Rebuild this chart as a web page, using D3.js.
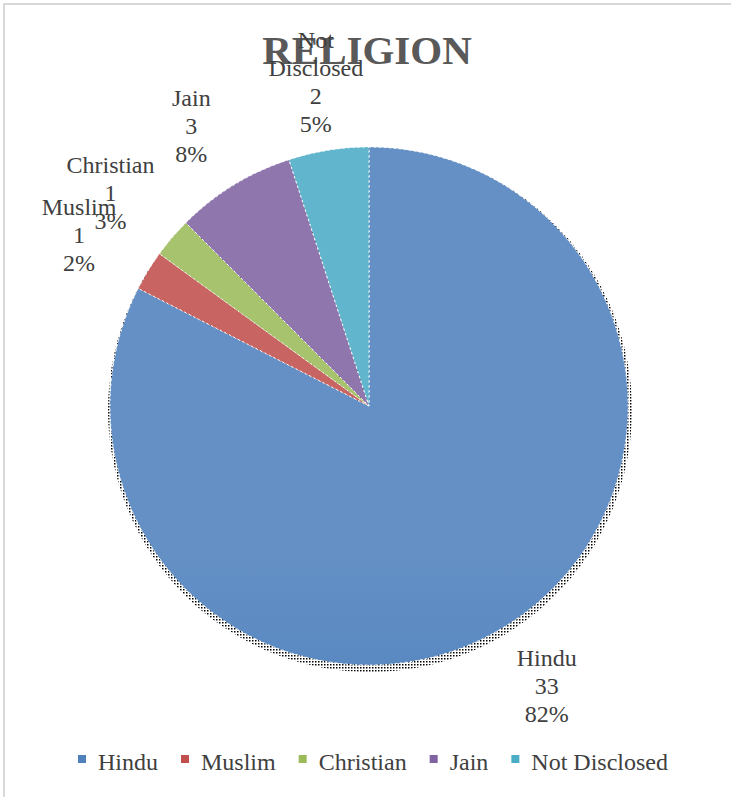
<!DOCTYPE html>
<html>
<head>
<meta charset="utf-8">
<script src="https://cdn.jsdelivr.net/npm/d3@7"></script>
<style>
  body { margin: 0; background: #fff; }
</style>
</head>
<body>
<svg class="chart-svg" width="731" height="797"></svg>
<script>
var categories = ["Hindu", "Muslim", "Christian", "Jain", "Not Disclosed"]
var counts = [33, 1, 1, 3, 2]
var percentLabels = ["82%", "2%", "3%", "8%", "5%"]
var nameLines = [["Hindu"], ["Muslim"], ["Christian"], ["Jain"], ["Not", "Disclosed"]]
var colors = ["#4f81bd", "#c0504d", "#9bbb59", "#8064a2", "#4bacc6"]

var FONT = "'Liberation Serif', 'Times New Roman', 'DejaVu Serif', serif"
var width = 731, height = 797
var cx = 369, cy = 406, radius = 259

var svg = d3.select(".chart-svg")

// chart area border
svg.append("rect")
  .attr("x", 4).attr("y", 4)
  .attr("width", width + 10).attr("height", height + 10)
  .attr("fill", "none")
  .attr("stroke", "#d9d9d9")
  .attr("stroke-width", 2)

svg.append("text")
  .attr("x", 367).attr("y", 64)
  .attr("text-anchor", "middle")
  .attr("font-family", FONT)
  .attr("font-size", "41px")
  .attr("font-weight", "bold")
  .attr("fill", "#595959")
  .text("RELIGION")

var defs = svg.append("defs")
colors.forEach((c, i) => {
  var g = defs.append("linearGradient")
    .attr("id", "grad" + i)
    .attr("gradientUnits", "userSpaceOnUse")
    .attr("x1", 0).attr("y1", cy - radius)
    .attr("x2", 0).attr("y2", cy + radius)
  g.append("stop").attr("offset", "0%").attr("stop-color", d3.interpolateRgb(c, "#fff")(0.12))
  g.append("stop").attr("offset", "45%").attr("stop-color", c)
  g.append("stop").attr("offset", "100%").attr("stop-color", d3.color(c).darker(0.3))
})

// dotted texture for the shadow
var pat = defs.append("pattern")
  .attr("id", "dots")
  .attr("patternUnits", "userSpaceOnUse")
  .attr("width", 3).attr("height", 3)
pat.append("rect").attr("width", 1.5).attr("height", 1.5).attr("fill", "#000")

var pie = d3.pie().sort(null).value(d => d)
var arcs = pie(counts)
var arc = d3.arc().innerRadius(0).outerRadius(radius)

var group = svg.append("g")
  .attr("transform", "translate(" + cx + "," + cy + ")")

group.append("circle")
  .attr("cx", 1).attr("cy", 4)
  .attr("r", radius + 3)
  .attr("fill", "url(#dots)")

group.selectAll("path")
  .data(arcs)
  .enter()
  .append("path")
  .attr("d", arc)
  .attr("fill", (d, i) => "url(#grad" + i + ")")
  .attr("stroke", "#fff")
  .attr("stroke-width", 1)
  .attr("stroke-dasharray", "2,3")

// outside-end labels, slightly elliptical placement like Excel
var lineH = 28
arcs.forEach((d, i) => {
  var a = (d.startAngle + d.endAngle) / 2
  var px = Math.sin(a) * 340
  var py = -Math.cos(a) * 328
  var lines = nameLines[i].concat([String(counts[i]), percentLabels[i]])
  var top = py - (lines.length - 1) * lineH / 2
  var t = group.append("text")
    .attr("text-anchor", "middle")
    .attr("font-family", FONT)
    .attr("font-size", "24px")
    .attr("fill", "#404040")
  lines.forEach((l, k) => {
    t.append("tspan")
      .attr("x", px)
      .attr("y", top + k * lineH + 8)
      .text(l)
  })
})

// legend laid out by measured text widths
var legend = svg.append("g").attr("class", "legend")
var lx = 78
categories.forEach((c, i) => {
  legend.append("rect")
    .attr("x", lx).attr("y", 755)
    .attr("width", 8).attr("height", 8)
    .attr("fill", colors[i])
  var t = legend.append("text")
    .attr("x", lx + 20).attr("y", 770)
    .attr("font-family", FONT)
    .attr("font-size", "24px")
    .attr("fill", "#404040")
    .text(c)
  lx += 20 + t.node().getComputedTextLength() + 23
})
</script>
</body>
</html>
